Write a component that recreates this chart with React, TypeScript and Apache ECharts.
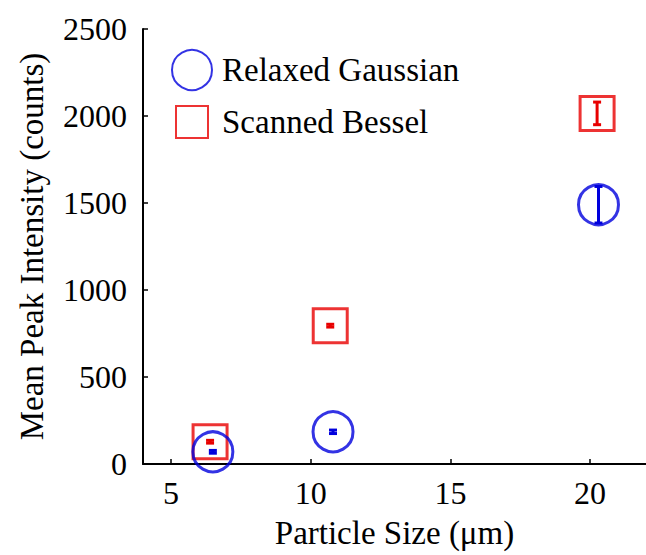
import React, { useEffect, useRef } from "react";
import * as echarts from "echarts";

const xTicks = [5, 10, 15, 20];
const gaussX = [6.5, 10.8, 20.3];
const gaussY = [70, 185, 1490];
const gaussErr = [8, 10, 105];
const besselX = [6.4, 10.7, 20.25];
const besselY = [128, 795, 2015];
const besselErr = [8, 8, 65];

const BLUE = "#0000dd";
const RED = "#e80000";
const FONT = "'Liberation Serif', 'Times New Roman', serif";

function errSeries(xs: number[], ys: number[], es: number[], color: string) {
  return {
    type: "custom",
    silent: true,
    z: 5,
    data: xs.map((x, i) => [x, ys[i], es[i]]),
    renderItem: (params: any, api: any) => {
      const x = api.value(0);
      const y = api.value(1);
      const e = api.value(2);
      const hi = api.coord([x, y + e]);
      const lo = api.coord([x, y - e]);
      const cw = 4;
      const style = { stroke: color, lineWidth: 3 };
      return {
        type: "group",
        children: [
          { type: "line", shape: { x1: hi[0], y1: hi[1], x2: lo[0], y2: lo[1] }, style },
          { type: "line", shape: { x1: hi[0] - cw, y1: hi[1], x2: hi[0] + cw, y2: hi[1] }, style },
          { type: "line", shape: { x1: lo[0] - cw, y1: lo[1], x2: lo[0] + cw, y2: lo[1] }, style },
        ],
      };
    },
  };
}

export default function App() {
  const ref = useRef<HTMLDivElement>(null);
  useEffect(() => {
    const chart = echarts.init(ref.current!, null, { renderer: "svg" });
    const tickStyle = { fontFamily: FONT, fontSize: 32, color: "#000" };
    const textStyle = { fontFamily: FONT, fontSize: 33, color: "#000" };
    chart.setOption({
      animation: false,
      backgroundColor: "#fff",
      grid: { left: 143, top: 29, height: 435, width: 511 },
      legend: [
        {
          left: 171,
          top: 49,
          padding: 0,
          itemWidth: 40,
          itemHeight: 40,
          textStyle: { ...textStyle, padding: [0, 0, 0, 5] },
          data: [
            {
              name: "Relaxed Gaussian",
              icon: "circle",
              itemStyle: { color: "rgba(0,0,0,0)", borderColor: BLUE, borderWidth: 2 },
            },
          ],
        },
        {
          left: 175,
          top: 105,
          padding: 0,
          itemWidth: 32,
          itemHeight: 32,
          textStyle: { ...textStyle, padding: [0, 0, 0, 9] },
          data: [
            {
              name: "Scanned Bessel",
              icon: "rect",
              itemStyle: { color: "rgba(0,0,0,0)", borderColor: RED, borderWidth: 2 },
            },
          ],
        },
      ],
      xAxis: {
        type: "value",
        min: 4,
        max: 22,
        name: "Particle Size (\u03bcm)",
        nameLocation: "middle",
        nameGap: 52,
        nameTextStyle: { ...textStyle },
        axisLine: { lineStyle: { color: "#000", width: 2 } },
        axisTick: { inside: true, length: 5, lineStyle: { color: "#000", width: 1.5 }, customValues: xTicks },
        axisLabel: { ...tickStyle, margin: 13, customValues: xTicks },
        splitLine: { show: false },
      },
      yAxis: {
        type: "value",
        min: 0,
        max: 2500,
        interval: 500,
        name: "Mean Peak Intensity (counts)",
        nameLocation: "middle",
        nameGap: 95,
        nameTextStyle: { ...textStyle },
        axisLine: { show: true, lineStyle: { color: "#000", width: 2 } },
        axisTick: { show: true, inside: true, length: 5, lineStyle: { color: "#000", width: 1.5 } },
        axisLabel: { ...tickStyle, margin: 16, formatter: (v: number) => String(v) },
        splitLine: { show: false },
      },
      series: [
        {
          name: "Scanned Bessel",
          type: "scatter",
          symbol: "rect",
          symbolSize: 34,
          data: besselX.map((x, i) => [x, besselY[i]]),
          itemStyle: { color: "rgba(0,0,0,0)", borderColor: RED, borderWidth: 3 },
          z: 3,
        },
        {
          name: "Relaxed Gaussian",
          type: "scatter",
          symbol: "circle",
          symbolSize: 40,
          data: gaussX.map((x, i) => [x, gaussY[i]]),
          itemStyle: { color: "rgba(0,0,0,0)", borderColor: BLUE, borderWidth: 3 },
          z: 4,
        },
        errSeries(besselX, besselY, besselErr, RED),
        errSeries(gaussX, gaussY, gaussErr, BLUE),
      ],
    });
    return () => chart.dispose();
  }, []);
  return (
    <div
      ref={ref}
      style={{ position: "fixed", left: 0, top: 0, width: 646, height: 555, background: "#fff" }}
    />
  );
}
